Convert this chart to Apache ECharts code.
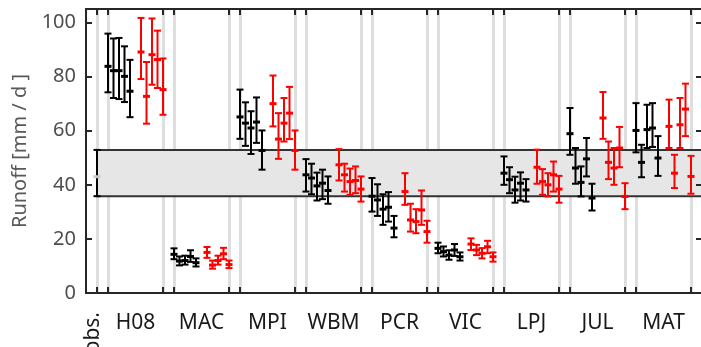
<!DOCTYPE html>
<html>
<head>
<meta charset="utf-8">
<script src="https://cdn.jsdelivr.net/npm/echarts@6.0.0/dist/echarts.min.js"></script>
<style>
  html, body { margin: 0; padding: 0; background: #fff; }
  #chart { width: 701px; height: 347px; }
</style>
</head>
<body>
<div id="chart"></div>
<script>
// model names, one group each
var groups = ['H08', 'MAC', 'MPI', 'WBM', 'PCR', 'VIC', 'LPJ', 'JUL', 'MAT'];
var yTicks = [0, 20, 40, 60, 80, 100];

// observation: mean and range (also the grey band)
var obsMean = 43;
var obsLow = 35.8;
var obsHigh = 52.9;

// black runs, 5 per model
var blackMean = [
  83.8, 82.2, 82.2, 80.1, 74.6,
  14.3, 11.8, 12.0, 13.5, 11.2,
  65.1, 62.8, 61.0, 63.2, 52.7,
  43.7, 42.5, 39.6, 40.6, 37.9,
  35.8, 34.4, 31.0, 31.7, 24.0,
  16.5, 15.3, 14.0, 15.9, 13.4,
  44.3, 41.9, 38.1, 40.6, 38.1,
  58.9, 46.2, 40.9, 49.6, 35.1,
  60.1, 48.3, 60.4, 61.0, 49.9
];
var blackLow = [
  74.2, 72.1, 71.7, 70.6, 65.0,
  12.5, 10.2, 10.5, 11.5, 9.8,
  57.0, 54.4, 51.4, 55.5, 45.6,
  37.5, 36.5, 34.2, 34.7, 33.0,
  30.1, 28.5, 25.2, 26.4, 20.6,
  14.7, 13.5, 12.3, 13.7, 12.0,
  40.0, 36.9, 33.4, 34.2, 33.8,
  51.1, 40.4, 35.7, 43.1, 30.5,
  52.0, 42.8, 53.6, 54.0, 43.3
];
var blackHigh = [
  95.9, 94.1, 94.3, 91.2, 86.2,
  16.5, 13.5, 13.8, 15.8, 12.8,
  75.2, 70.5, 67.2, 72.3, 60.1,
  49.5, 47.8, 44.5, 45.6, 43.1,
  42.5, 40.2, 36.5, 37.3, 28.5,
  18.6, 17.2, 15.8, 18.1, 15.0,
  50.5, 46.5, 43.0, 44.6, 42.1,
  68.4, 53.6, 46.8, 57.3, 40.4,
  70.2, 54.8, 69.6, 70.2, 58.0
];

// red runs, 5 per model
var redMean = [
  89.1, 72.7, 88.1, 86.3, 75.2,
  15.0, 10.3, 12.0, 14.5, 10.5,
  70.0, 56.9, 62.8, 66.5, 52.7,
  47.4, 43.7, 41.2, 41.6, 38.4,
  37.5, 27.0, 26.4, 30.7, 22.7,
  18.1, 15.9, 14.7, 17.1, 13.4,
  46.5, 41.2, 40.0, 43.7, 38.4,
  64.7, 48.3, 46.2, 53.6, 35.7,
  61.6, 44.3, 62.2, 68.0, 43.1
];
var redLow = [
  79.1, 62.6, 77.0, 75.8, 65.9,
  13.0, 9.0, 10.5, 12.5, 9.2,
  61.6, 49.6, 56.0, 56.9, 45.6,
  41.6, 37.5, 36.3, 36.9, 33.8,
  32.6, 22.7, 22.1, 25.2, 18.6,
  15.9, 14.0, 12.8, 14.7, 11.6,
  40.4, 36.3, 35.7, 37.5, 33.4,
  57.0, 42.1, 40.0, 46.5, 31.0,
  53.6, 38.8, 53.6, 58.0, 36.7
];
var redHigh = [
  101.7, 85.4, 101.5, 97.0, 86.7,
  17.0, 12.0, 13.8, 16.7, 12.0,
  80.4, 66.5, 72.1, 76.2, 60.1,
  53.2, 47.8, 46.0, 46.8, 43.1,
  44.3, 33.0, 31.0, 37.9, 26.7,
  20.2, 17.8, 16.6, 19.3, 15.0,
  53.0, 45.8, 44.3, 48.6, 43.3,
  74.3, 56.0, 53.6, 61.4, 40.6,
  71.5, 51.1, 72.1, 77.4, 50.7
];

// layout on the x scale: obs at 1, each model takes 6 units
var runsPerGroup = 5;
var sepLines = [1];
var labelPos = [];
groups.forEach(function (g, k) {
  sepLines.push(2 + 6 * k, 7 + 6 * k);
  labelPos.push(4.5 + 6 * k);
});

function buildBars(mean, low, high, offset) {
  var out = [];
  for (var i = 0; i < mean.length; i++) {
    var k = Math.floor(i / runsPerGroup);
    var j = i % runsPerGroup;
    out.push([offset + 6 * k + 0.5 * j, low[i], high[i], mean[i]]);
  }
  return out;
}

// error bar: vertical line, two caps, tick at the mean
function makeRender(midColor) {
  return function (params, api) {
    var x = api.value(0);
    var lo = api.coord([x, api.value(1)]);
    var hi = api.coord([x, api.value(2)]);
    var mid = api.coord([x, api.value(3)]);
    var color = api.visual('color');
    var w = 3.5;
    var st = { stroke: color, lineWidth: 2 };
    return {
      type: 'group',
      children: [
        { type: 'line', shape: { x1: lo[0], y1: lo[1], x2: hi[0], y2: hi[1] }, style: st },
        { type: 'line', shape: { x1: lo[0] - w, y1: lo[1], x2: lo[0] + w, y2: lo[1] }, style: st },
        { type: 'line', shape: { x1: hi[0] - w, y1: hi[1], x2: hi[0] + w, y2: hi[1] }, style: st },
        { type: 'line', shape: { x1: mid[0] - w, y1: mid[1], x2: mid[0] + w, y2: mid[1] },
          style: { stroke: midColor || color, lineWidth: 3 } }
      ]
    };
  };
}

var chart = echarts.init(document.getElementById('chart'));

var axisCol = '#262626';
var font = 'Noto Sans';

var option = {
  animation: false,
  grid: { left: 86, top: 9, width: 616, height: 284, outerBoundsMode: 'none' },
  xAxis: [
    {
      type: 'value', position: 'bottom', min: 0, max: 56, z: 10,
      axisLine: { onZero: false, lineStyle: { color: axisCol, width: 2 } },
      axisTick: { inside: true, length: 6, customValues: sepLines, lineStyle: { color: axisCol, width: 2 } },
      axisLabel: {
        customValues: labelPos, margin: 20, color: '#1a1a1a', fontSize: 21, fontFamily: font,
        formatter: function (v) { return groups[Math.round((v - 4.5) / 6)]; }
      },
      splitLine: { show: false }
    },
    {
      type: 'value', position: 'top', min: 0, max: 56, z: 10,
      axisLine: { onZero: false, lineStyle: { color: axisCol, width: 2 } },
      axisTick: { inside: true, length: 6, customValues: sepLines, lineStyle: { color: axisCol, width: 2 } },
      axisLabel: { show: false },
      splitLine: { show: false }
    },
    {
      type: 'value', position: 'bottom', min: 0, max: 56,
      axisLine: { show: false, onZero: false },
      axisTick: { show: false },
      axisLabel: {
        customValues: [0.6], rotate: 90, margin: 19, color: '#1a1a1a', fontSize: 21, fontFamily: font,
        formatter: function () { return 'obs.'; }
      },
      splitLine: { show: false }
    }
  ],
  yAxis: [
    {
      type: 'value', position: 'left', min: 0, max: 105, z: 10,
      name: 'Runoff [mm / d ]', nameLocation: 'middle', nameGap: 56,
      nameTextStyle: { color: '#595959', fontSize: 20, fontFamily: font },
      axisLine: { onZero: false, lineStyle: { color: axisCol, width: 2 } },
      axisTick: { inside: true, length: 6, customValues: yTicks, lineStyle: { color: axisCol, width: 2 } },
      axisLabel: { customValues: yTicks, margin: 10, color: '#4d4d4d', fontSize: 20, fontFamily: font },
      splitLine: { show: false }
    },
    {
      type: 'value', position: 'right', min: 0, max: 105, z: 10,
      axisLine: { onZero: false, lineStyle: { color: axisCol, width: 2 } },
      axisTick: { inside: true, length: 6, customValues: yTicks, lineStyle: { color: axisCol, width: 2 } },
      axisLabel: { show: false },
      splitLine: { show: false }
    }
  ],
  series: [
    {
      // grey separators
      type: 'line', data: [], z: 1, silent: true,
      markLine: {
        z: 1, silent: true, symbol: 'none',
        label: { show: false },
        lineStyle: { color: '#dedede', width: 3, type: 'solid' },
        data: sepLines.map(function (v) { return { xAxis: v }; })
      }
    },
    {
      // observed range band
      type: 'line', data: [], z: 2, silent: true,
      markArea: {
        z: 2, silent: true,
        itemStyle: { color: '#e6e6e6', borderColor: '#333', borderWidth: 2 },
        data: [[{ xAxis: 1, yAxis: obsLow }, { xAxis: 56, yAxis: obsHigh }]]
      }
    },
    {
      name: 'obs', type: 'custom', z: 4, color: '#000',
      renderItem: makeRender('#c8c8c8'),
      encode: { x: 0, y: [1, 2, 3] },
      data: [[1, obsLow, obsHigh, obsMean]]
    },
    {
      name: 'black', type: 'custom', z: 4, color: '#000',
      renderItem: makeRender(),
      encode: { x: 0, y: [1, 2, 3] },
      data: buildBars(blackMean, blackLow, blackHigh, 2)
    },
    {
      name: 'red', type: 'custom', z: 4, color: '#ff0000',
      renderItem: makeRender(),
      encode: { x: 0, y: [1, 2, 3] },
      data: buildBars(redMean, redLow, redHigh, 5)
    }
  ]
};

chart.setOption(option);
</script>
</body>
</html>
